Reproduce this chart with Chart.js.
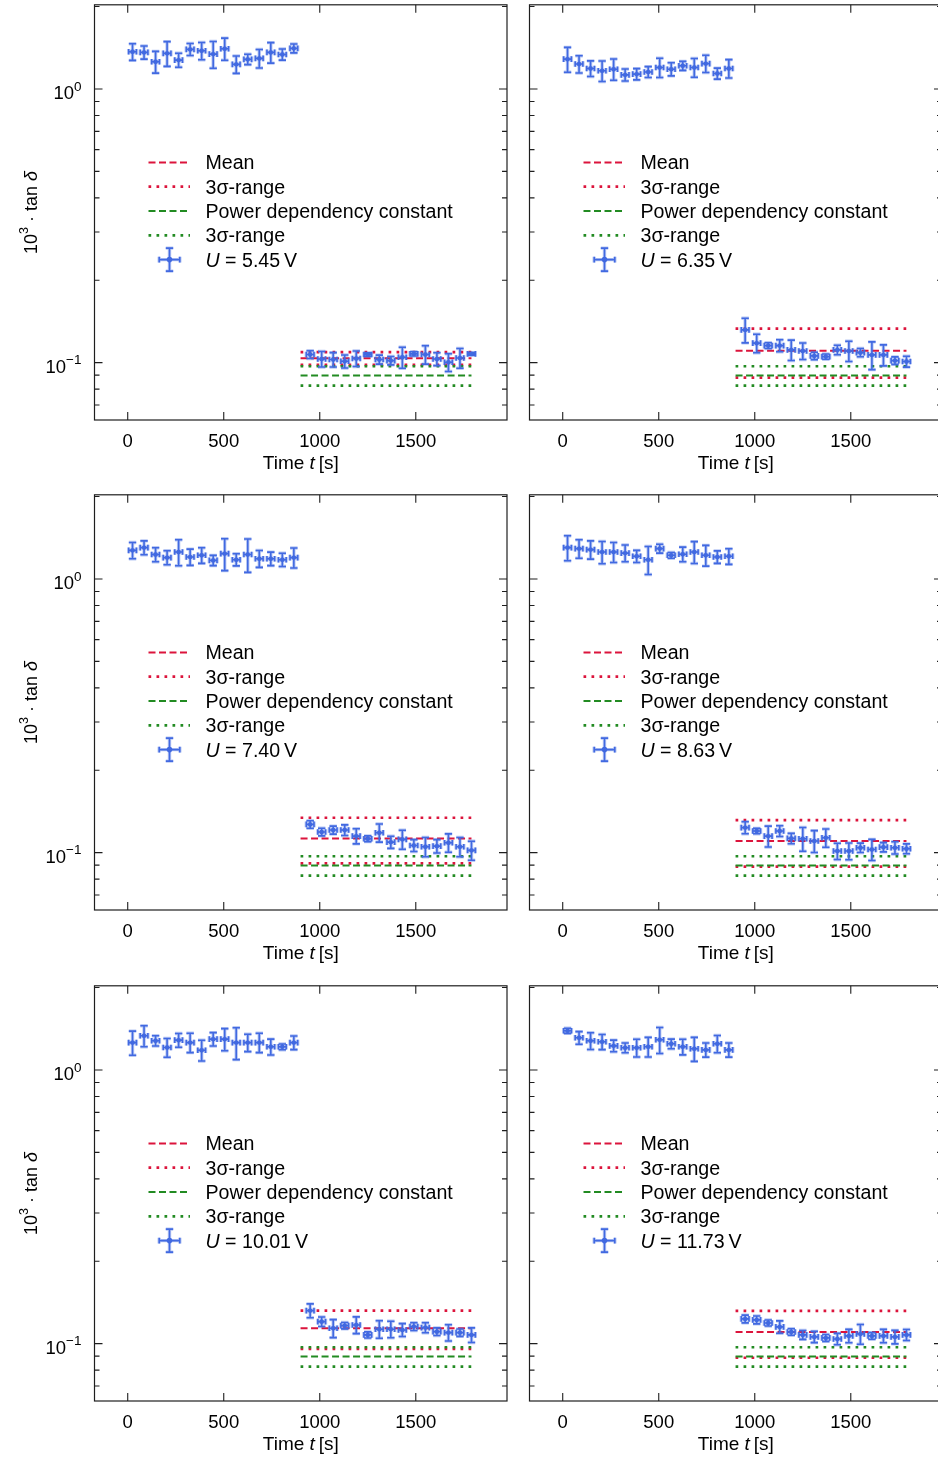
<!DOCTYPE html>
<html>
<head>
<meta charset="utf-8">
<script src="https://cdn.jsdelivr.net/npm/chart.js@4.4.0/dist/chart.umd.min.js"></script>
<style>
  html, body { margin: 0; padding: 0; background: #ffffff; overflow: hidden; width: 938px; height: 1458px; }
  .panel { position: absolute; width: 519px; height: 490px; }
</style>
</head>
<body>
<div class="panel" style="left:0px;top:0px"><canvas id="c0" width="519" height="490"></canvas></div>
<div class="panel" style="left:435px;top:0px"><canvas id="c1" width="519" height="490"></canvas></div>
<div class="panel" style="left:0px;top:490px"><canvas id="c2" width="519" height="490"></canvas></div>
<div class="panel" style="left:435px;top:490px"><canvas id="c3" width="519" height="490"></canvas></div>
<div class="panel" style="left:0px;top:981px"><canvas id="c4" width="519" height="490"></canvas></div>
<div class="panel" style="left:435px;top:981px"><canvas id="c5" width="519" height="490"></canvas></div>
<script>
// ---- measurement data -------------------------------------------------------
const voltages = ['5.45', '6.35', '7.40', '8.63', '10.01', '11.73'];

// time stamps [s] of the two measurement blocks and their half widths
const tEarly = [25, 85, 145, 205, 265, 325, 385, 445, 505, 565, 625, 685, 745, 805, 865];
const tLate = [950, 1010, 1070, 1130, 1190, 1250, 1310, 1370, 1430, 1490, 1550, 1610, 1670, 1730, 1790];
const tHalfWidth = 20;

// 10^3 * tan(delta) values with their uncertainties, one pair of arrays per voltage
const early545 = [1.367, 1.360, 1.257, 1.349, 1.275, 1.395, 1.379, 1.341, 1.403, 1.230, 1.283, 1.293, 1.360, 1.337, 1.407];
const early545Err = [0.095, 0.075, 0.115, 0.140, 0.075, 0.070, 0.100, 0.150, 0.130, 0.090, 0.056, 0.100, 0.117, 0.063, 0.052];
const late545 = [0.1070, 0.1031, 0.1026, 0.1011, 0.1035, 0.1070, 0.1026, 0.1017, 0.1046, 0.1076, 0.1070, 0.1031, 0.1003, 0.1040, 0.1076];
const late545Err = [0.0035, 0.0067, 0.0062, 0.0055, 0.0067, 0.0015, 0.0039, 0.0036, 0.0092, 0.0019, 0.0083, 0.0056, 0.0075, 0.0086, 0.0012];

const early635 = [1.285, 1.233, 1.188, 1.165, 1.181, 1.126, 1.133, 1.154, 1.198, 1.181, 1.215, 1.198, 1.238, 1.139, 1.188];
const early635Err = [0.134, 0.090, 0.078, 0.100, 0.105, 0.057, 0.054, 0.053, 0.097, 0.065, 0.046, 0.094, 0.090, 0.053, 0.092];
const late635 = [0.1317, 0.1178, 0.1154, 0.1154, 0.1113, 0.1103, 0.1058, 0.1052, 0.1113, 0.1103, 0.1088, 0.1067, 0.1067, 0.1017, 0.1009];
const late635Err = [0.0136, 0.0091, 0.0028, 0.0058, 0.0095, 0.0077, 0.0033, 0.0023, 0.0044, 0.0094, 0.0038, 0.0124, 0.0094, 0.0032, 0.0046];

const early740 = [1.272, 1.302, 1.228, 1.197, 1.254, 1.203, 1.220, 1.169, 1.238, 1.176, 1.228, 1.186, 1.186, 1.176, 1.197];
const early740Err = [0.087, 0.076, 0.072, 0.070, 0.137, 0.082, 0.080, 0.050, 0.165, 0.060, 0.171, 0.084, 0.067, 0.065, 0.101];
const late740 = [0.1268, 0.1189, 0.1209, 0.1209, 0.1149, 0.1124, 0.1182, 0.1092, 0.1118, 0.1062, 0.1051, 0.1056, 0.1087, 0.1051, 0.1019];
const late740Err = [0.0040, 0.0038, 0.0041, 0.0054, 0.0073, 0.0027, 0.0090, 0.0056, 0.0089, 0.0053, 0.0085, 0.0059, 0.0084, 0.0085, 0.0081];

const early863 = [1.302, 1.291, 1.280, 1.254, 1.254, 1.243, 1.210, 1.176, 1.291, 1.220, 1.231, 1.254, 1.220, 1.203, 1.210];
const early863Err = [0.136, 0.100, 0.098, 0.117, 0.105, 0.087, 0.062, 0.138, 0.048, 0.030, 0.076, 0.115, 0.106, 0.063, 0.080];
const late863 = [0.1234, 0.1199, 0.1149, 0.1199, 0.1127, 0.1124, 0.1102, 0.1133, 0.1013, 0.1013, 0.1042, 0.1027, 0.1047, 0.1042, 0.1033];
const late863Err = [0.0062, 0.0027, 0.0101, 0.0054, 0.0049, 0.0112, 0.0101, 0.0087, 0.0069, 0.0071, 0.0041, 0.0091, 0.0041, 0.0054, 0.0043];

const early1001 = [1.259, 1.333, 1.278, 1.208, 1.285, 1.259, 1.181, 1.296, 1.296, 1.259, 1.259, 1.259, 1.215, 1.215, 1.259];
const early1001Err = [0.127, 0.118, 0.055, 0.095, 0.074, 0.102, 0.103, 0.073, 0.120, 0.168, 0.092, 0.102, 0.081, 0.029, 0.072];
const late1001 = [0.1320, 0.1203, 0.1138, 0.1163, 0.1170, 0.1076, 0.1129, 0.1129, 0.1122, 0.1154, 0.1144, 0.1106, 0.1097, 0.1097, 0.1076];
const late1001Err = [0.0077, 0.0048, 0.0086, 0.0031, 0.0082, 0.0028, 0.0083, 0.0078, 0.0061, 0.0038, 0.0048, 0.0036, 0.0075, 0.0034, 0.0066];

const early1173 = [1.390, 1.311, 1.278, 1.267, 1.225, 1.205, 1.205, 1.215, 1.289, 1.246, 1.215, 1.195, 1.184, 1.246, 1.184];
const early1173Err = [0.030, 0.070, 0.090, 0.080, 0.060, 0.050, 0.090, 0.100, 0.140, 0.050, 0.080, 0.120, 0.070, 0.090, 0.070];
const late1173 = [0.1231, 0.1221, 0.1190, 0.1151, 0.1103, 0.1076, 0.1058, 0.1049, 0.1040, 0.1067, 0.1085, 0.1067, 0.1067, 0.1058, 0.1076];
const late1173Err = [0.0040, 0.0040, 0.0030, 0.0060, 0.0030, 0.0040, 0.0050, 0.0030, 0.0050, 0.0060, 0.0090, 0.0030, 0.0060, 0.0060, 0.0050];

// mean of the late block and its 3-sigma half width, per voltage
const meanLevels = [0.1037, 0.1106, 0.1127, 0.1102, 0.1138, 0.1103];
const meanBands = [0.0056, 0.0225, 0.0214, 0.0213, 0.0182, 0.0215];
// power dependency constant and its 3-sigma half width (same for all voltages)
const powerConst = 0.0897;
const powerBand = 0.0073;
const levelSpan = [900, 1790];

// axes
const xRange = [-173, 1975];
const yRange = [0.0617, 2.03];
const xTickValues = [0, 500, 1000, 1500];
const xTickLabels = ['0', '500', '1000', '1500'];
const yMajorTicks = [1, 0.1];
const yMajorExponents = ['0', '\u22121'];
const yMinorTicks = [0.07, 0.08, 0.09, 0.2, 0.3, 0.4, 0.5, 0.6, 0.7, 0.8, 0.9, 2];
const legendLabels = ['Mean', '3\u03c3-range', 'Power dependency constant', '3\u03c3-range'];

const earlySets = [early545, early635, early740, early863, early1001, early1173];
const earlyErrSets = [early545Err, early635Err, early740Err, early863Err, early1001Err, early1173Err];
const lateSets = [late545, late635, late740, late863, late1001, late1173];
const lateErrSets = [late545Err, late635Err, late740Err, late863Err, late1001Err, late1173Err];

// ---- styles ---------------------------------------------------------------
const FONT = '"Liberation Sans", Arial, Helvetica, sans-serif';
const RED = '#dc143c';
const GREEN = '#228b22';
const BLUE = '#4169e1';
const BLUE_HALO = 'rgba(65,105,225,0.36)';
const AXIS = '#1e1e1e';
const DASH = [7, 3.5];
const DOT = [2.7, 5.3];
const DOT_W = 2.7;
const LEGEND_SIZE = 19.6;

function fontOf(p) {
  return (p.italic ? 'italic ' : '') + p.size + 'px ' + FONT;
}
function drawRich(ctx, parts, x, y, align) {
  let total = 0;
  parts.forEach(p => { ctx.font = fontOf(p); p.w = ctx.measureText(p.text).width; total += p.w; });
  let cx = align === 'center' ? x - total / 2 : (align === 'right' ? x - total : x);
  ctx.textAlign = 'left';
  ctx.textBaseline = 'alphabetic';
  parts.forEach(p => { ctx.font = fontOf(p); ctx.fillText(p.text, cx, y + (p.dy || 0)); cx += p.w; });
}

// error bar glyph: vertical + horizontal bars with caps
function errorCross(ctx, px, py, y1, y2, x1, x2) {
  const capW = 3.7, capH = 2.8;
  ctx.moveTo(px, y1); ctx.lineTo(px, y2);
  ctx.moveTo(px - capW, y1); ctx.lineTo(px + capW, y1);
  ctx.moveTo(px - capW, y2); ctx.lineTo(px + capW, y2);
  ctx.moveTo(x1, py); ctx.lineTo(x2, py);
  ctx.moveTo(x1, py - capH); ctx.lineTo(x1, py + capH);
  ctx.moveTo(x2, py - capH); ctx.lineTo(x2, py + capH);
}

const errorBarPlugin = {
  id: 'errorBars',
  beforeDatasetDraw(chart, args) {
    const ds = chart.data.datasets[args.index];
    if (!ds.errY) return;
    const { ctx, scales: { x, y } } = chart;
    ctx.save();
    ctx.lineCap = 'butt';
    [[3.4, BLUE_HALO], [1.6, BLUE]].forEach(([w, col]) => {
      ctx.strokeStyle = col;
      ctx.lineWidth = w;
      ctx.beginPath();
      ds.data.forEach((p, i) => {
        errorCross(ctx,
          x.getPixelForValue(p.x), y.getPixelForValue(p.y),
          y.getPixelForValue(p.y - ds.errY[i]), y.getPixelForValue(p.y + ds.errY[i]),
          x.getPixelForValue(p.x - ds.errX[i]), x.getPixelForValue(p.x + ds.errX[i]));
      });
      ctx.stroke();
    });
    ctx.restore();
  }
};

const framePlugin = {
  id: 'frameAndLabels',
  afterDraw(chart) {
    const { ctx, chartArea: a, scales: { x, y } } = chart;
    const cfg = chart.options.plugins.frameAndLabels;
    ctx.save();
    // frame
    ctx.strokeStyle = AXIS;
    ctx.lineWidth = 1.2;
    ctx.strokeRect(a.left, a.top, a.right - a.left, a.bottom - a.top);
    // inward ticks
    ctx.lineWidth = 1.1;
    ctx.beginPath();
    xTickValues.forEach(v => {
      const px = x.getPixelForValue(v);
      ctx.moveTo(px, a.bottom); ctx.lineTo(px, a.bottom - 8);
      ctx.moveTo(px, a.top); ctx.lineTo(px, a.top + 8);
    });
    yMajorTicks.forEach(v => {
      const py = y.getPixelForValue(v);
      ctx.moveTo(a.left, py); ctx.lineTo(a.left + 8, py);
      ctx.moveTo(a.right, py); ctx.lineTo(a.right - 8, py);
    });
    yMinorTicks.forEach(v => {
      const py = y.getPixelForValue(v);
      ctx.moveTo(a.left, py); ctx.lineTo(a.left + 5, py);
      ctx.moveTo(a.right, py); ctx.lineTo(a.right - 5, py);
    });
    ctx.stroke();

    ctx.fillStyle = '#000000';
    // x tick labels
    xTickValues.forEach((v, i) => {
      drawRich(ctx, [{ text: xTickLabels[i], size: 18.5 }], x.getPixelForValue(v), a.bottom + 26.7, 'center');
    });
    // x title
    drawRich(ctx, [
      { text: 'Time ', size: 19 },
      { text: 't', size: 19, italic: true },
      { text: '\u2009[s]', size: 19 }
    ], (a.left + a.right) / 2, a.bottom + 48.8, 'center');

    if (cfg.showY) {
      yMajorTicks.forEach((v, i) => {
        const py = y.getPixelForValue(v);
        drawRich(ctx, [
          { text: '10', size: 18.5 },
          { text: yMajorExponents[i], size: 13.5, dy: -8.3 }
        ], a.left - 13, py + 10, 'right');
      });
      // y title
      ctx.save();
      ctx.translate(36.5, (a.top + a.bottom) / 2);
      ctx.rotate(-Math.PI / 2);
      drawRich(ctx, [
        { text: '10', size: 18 },
        { text: '3', size: 12.5, dy: -9 },
        { text: ' \u00b7 tan ', size: 18 },
        { text: '\u03b4', size: 18, italic: true }
      ], 0, 0, 'center');
      ctx.restore();
    }

    // legend
    const lx0 = a.left + 54, lx1 = a.left + 95.5, tx = a.left + 111;
    const rowY = i => a.top + 157.6 + 24.3 * i;
    const styles = [[RED, DASH, 2], [RED, DOT, DOT_W], [GREEN, DASH, 2], [GREEN, DOT, DOT_W]];
    styles.forEach(([col, dash, w], i) => {
      ctx.strokeStyle = col;
      ctx.lineWidth = w;
      ctx.setLineDash(dash);
      ctx.beginPath();
      ctx.moveTo(lx0, rowY(i)); ctx.lineTo(lx1, rowY(i));
      ctx.stroke();
      ctx.setLineDash([]);
      drawRich(ctx, [{ text: legendLabels[i], size: LEGEND_SIZE }], tx, rowY(i) + 6.9, 'left');
    });
    const gy = rowY(4), gx = a.left + 75;
    [[3.4, BLUE_HALO], [1.6, BLUE]].forEach(([w, col]) => {
      ctx.strokeStyle = col;
      ctx.lineWidth = w;
      ctx.beginPath();
      errorCross(ctx, gx, gy, gy - 11.5, gy + 11.5, gx - 10.3, gx + 10.3);
      ctx.stroke();
    });
    ctx.fillStyle = BLUE;
    ctx.beginPath();
    ctx.arc(gx, gy, 2.8, 0, Math.PI * 2);
    ctx.fill();
    ctx.fillStyle = '#000000';
    drawRich(ctx, [
      { text: 'U', size: LEGEND_SIZE, italic: true },
      { text: ' = ' + cfg.voltage + '\u2009V', size: LEGEND_SIZE }
    ], tx, gy + 6.9, 'left');
    ctx.restore();
  }
};

function levelLine(value) {
  return [{ x: levelSpan[0], y: value }, { x: levelSpan[1], y: value }];
}

function buildPanel(idx) {
  const col = idx % 2, row = Math.floor(idx / 2);
  const points = [];
  const errY = [], errX = [];
  tEarly.forEach((t, i) => { points.push({ x: t, y: earlySets[idx][i] }); errY.push(earlyErrSets[idx][i]); errX.push(tHalfWidth); });
  tLate.forEach((t, i) => { points.push({ x: t, y: lateSets[idx][i] }); errY.push(lateErrSets[idx][i]); errX.push(tHalfWidth); });
  const m = meanLevels[idx], b = meanBands[idx];
  const lineDs = (label, data, color, dash, width, order) => ({
    label, data, borderColor: color, borderDash: dash, borderWidth: width,
    pointRadius: 0, fill: false, showLine: true, order, tension: 0
  });
  new Chart(document.getElementById('c' + idx), {
    type: 'line',
    data: {
      datasets: [
        {
          label: 'U = ' + voltages[idx] + ' V', data: points, showLine: false, order: 0,
          pointRadius: 2.2, pointBackgroundColor: BLUE, pointBorderColor: BLUE_HALO, pointBorderWidth: 0.8,
          errY, errX
        },
        lineDs('Mean', levelLine(m), RED, DASH, 2, 4),
        lineDs('3\u03c3-range', levelLine(m + b), RED, DOT, DOT_W, 4),
        lineDs('3\u03c3-range (lower)', levelLine(m - b), RED, DOT, DOT_W, 4),
        lineDs('Power dependency constant', levelLine(powerConst), GREEN, DASH, 2, 2),
        lineDs('3\u03c3-range', levelLine(powerConst + powerBand), GREEN, DOT, DOT_W, 2),
        lineDs('3\u03c3-range (lower)', levelLine(powerConst - powerBand), GREEN, DOT, DOT_W, 2)
      ]
    },
    options: {
      responsive: false,
      animation: false,
      devicePixelRatio: 1,
      layout: { padding: { left: 94.5, right: 12, top: row === 1 ? 4.5 : 4, bottom: 70 } },
      scales: {
        x: { type: 'linear', min: xRange[0], max: xRange[1], display: false },
        y: { type: 'logarithmic', min: yRange[0], max: yRange[1], display: false }
      },
      plugins: {
        legend: { display: false },
        tooltip: { enabled: false },
        frameAndLabels: { showY: col === 0, voltage: voltages[idx] }
      }
    },
    plugins: [errorBarPlugin, framePlugin]
  });
}

for (let i = 0; i < 6; i++) buildPanel(i);
</script>
</body>
</html>
